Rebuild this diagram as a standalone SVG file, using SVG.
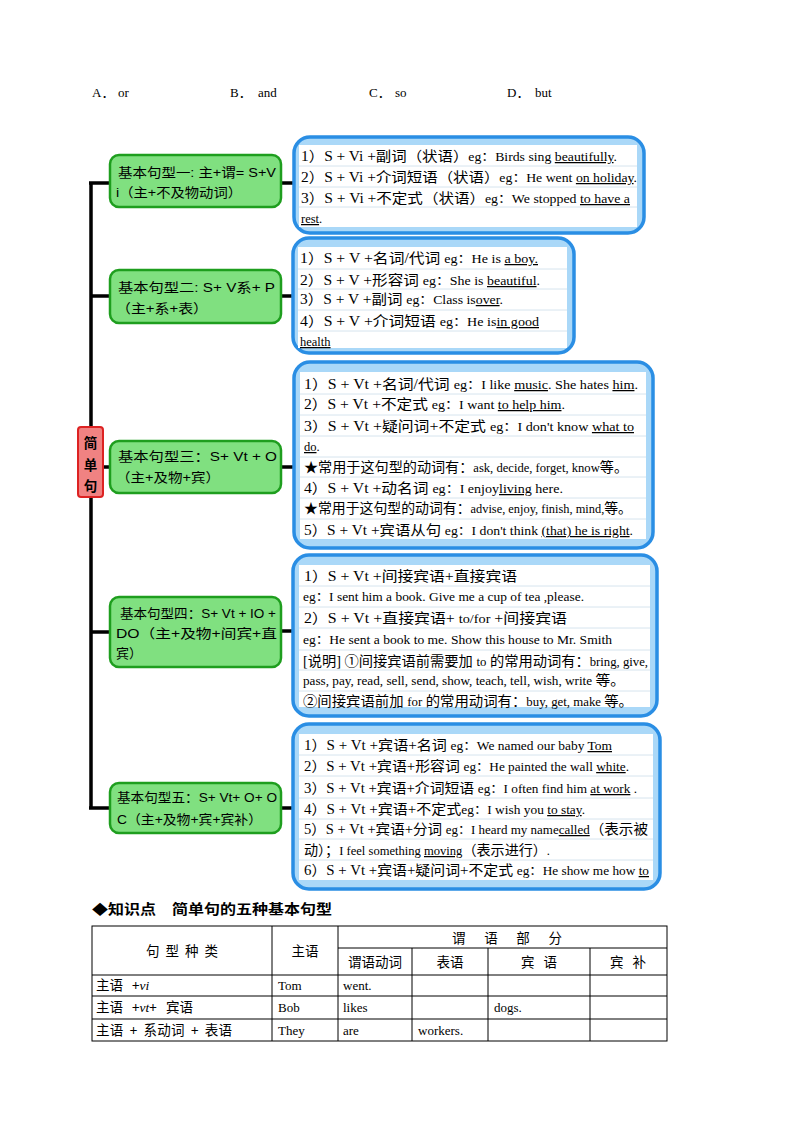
<svg xmlns="http://www.w3.org/2000/svg" width="794" height="1123" viewBox="0 0 794 1123">
<style>
.bg{fill:#fff}
.t{font-family:"Liberation Serif","Noto Sans CJK SC",serif;font-size:14px;fill:#000}
.x{font-size:12.5px}
.u{text-decoration:underline}
.g{font-family:"Liberation Sans","Noto Sans CJK SC",sans-serif;font-size:13px;fill:#000}
.gn{fill:#80e080;stroke:#1e9e1e;stroke-width:2.5}
.rn{fill:#f08282;stroke:#dd2222;stroke-width:2}
.bo{fill:#aad8f8;stroke:#2a8ee4;stroke-width:3.5}
.bw{fill:#fff}
.rl{stroke:#d6e4ee;stroke-width:1}
.k{stroke:#000;stroke-width:3.5;fill:none}
.tb{stroke:#000;stroke-width:1;fill:none}
.c{font-family:"Noto Sans CJK SC",sans-serif;font-size:13.5px;fill:#000}
.s{font-family:"Liberation Serif","Noto Sans CJK SC",serif;font-size:13px;fill:#000}
.it{font-family:"Liberation Serif",serif;font-style:italic}
</style>
<rect class="bg" x="0" y="0" width="794" height="1123"/>

<g id="options">
<text class="s" x="92" y="97">A．</text><text class="s" x="118" y="97">or</text>
<text class="s" x="230" y="97">B．</text><text class="s" x="258" y="97">and</text>
<text class="s" x="369" y="97">C．</text><text class="s" x="395" y="97">so</text>
<text class="s" x="507" y="97">D．</text><text class="s" x="535" y="97">but</text>
</g>

<g id="connectors">
<path class="k" d="M91,183 V427 M91,497 V808"/>
<path class="k" d="M89,183 H110 M91,296 H110 M103,467 H110 M91,632 H110 M89,808 H110"/>
<path class="k" d="M281,183 H294 M281,296 H293 M281,467 H294 M281,631 H293 M281,808 H293"/>
</g>

<g id="root">
<rect class="rn" x="78" y="427" width="25" height="70" rx="3"/>
<text class="c" x="90.5" y="448" text-anchor="middle" font-weight="bold" font-size="14">简</text>
<text class="c" x="90.5" y="470" text-anchor="middle" font-weight="bold" font-size="14">单</text>
<text class="c" x="90.5" y="491" text-anchor="middle" font-weight="bold" font-size="14">句</text>
</g>

<g id="type1">
<rect class="gn" x="110" y="155" width="171" height="52" rx="9"/>
<text class="g" x="118" y="177" textLength="158" lengthAdjust="spacingAndGlyphs">基本句型一: 主+谓= S+V</text>
<text class="g" x="116" y="197" textLength="126" lengthAdjust="spacingAndGlyphs">i（主+不及物动词）</text>
</g>
<g id="type2">
<rect class="gn" x="110" y="270" width="171" height="53" rx="9"/>
<text class="g" x="118" y="292" textLength="157" lengthAdjust="spacingAndGlyphs">基本句型二: S+ V系+ P</text>
<text class="g" x="116" y="313" textLength="92" lengthAdjust="spacingAndGlyphs">（主+系+表）</text>
</g>
<g id="type3">
<rect class="gn" x="110" y="441" width="171" height="52" rx="9"/>
<text class="g" x="118" y="461" textLength="159" lengthAdjust="spacingAndGlyphs">基本句型三：S+ Vt + O</text>
<text class="g" x="116" y="482" textLength="104" lengthAdjust="spacingAndGlyphs">（主+及物+宾）</text>
</g>
<g id="type4">
<rect class="gn" x="110" y="597" width="171" height="70" rx="9"/>
<text class="g" x="120" y="618" textLength="156" lengthAdjust="spacingAndGlyphs">基本句型四：S+ Vt + IO +</text>
<text class="g" x="116" y="638" textLength="161" lengthAdjust="spacingAndGlyphs">DO（主+及物+间宾+直</text>
<text class="g" x="116" y="658">宾）</text>
</g>
<g id="type5">
<rect class="gn" x="110" y="783" width="171" height="50" rx="9"/>
<text class="g" x="117" y="802" textLength="160" lengthAdjust="spacingAndGlyphs">基本句型五：S+ Vt+ O+ O</text>
<text class="g" x="117" y="824" textLength="145" lengthAdjust="spacingAndGlyphs">C（主+及物+宾+宾补）</text>
</g>

<g id="detail1">
<rect class="bo" x="294" y="137" width="350" height="96" rx="16"/>
<rect class="bw" x="299" y="145" width="338" height="82"/>
<path class="rl" d="M299,166 H637 M299,187 H637 M299,207 H637"/>
<text class="t" x="301" y="161" textLength="316" lengthAdjust="spacingAndGlyphs">1）S + Vi +副词（状语）<tspan class="x">eg：Birds sing <tspan class="u">beautifully</tspan>.</tspan></text>
<text class="t" x="301" y="182" textLength="336" lengthAdjust="spacingAndGlyphs">2）S + Vi +介词短语（状语）<tspan class="x">eg：He went <tspan class="u">on holiday</tspan>.</tspan></text>
<text class="t" x="301" y="203" textLength="329" lengthAdjust="spacingAndGlyphs">3）S + Vi +不定式（状语）<tspan class="x">eg：We stopped <tspan class="u">to have a</tspan></tspan></text>
<text class="t x" x="301" y="223"><tspan class="u">rest</tspan>.</text>
</g>

<g id="detail2">
<rect class="bo" x="293" y="238" width="281" height="115" rx="16"/>
<rect class="bw" x="298" y="247" width="269" height="101"/>
<path class="rl" d="M298,269 H567 M298,289 H567 M298,310 H567 M298,331 H567"/>
<text class="t" x="300" y="263" textLength="238" lengthAdjust="spacingAndGlyphs">1）S + V +名词/代词 <tspan class="x">eg：He is <tspan class="u">a boy.</tspan></tspan></text>
<text class="t" x="300" y="285" textLength="240" lengthAdjust="spacingAndGlyphs">2）S + V +形容词 <tspan class="x">eg：She is <tspan class="u">beautiful</tspan>.</tspan></text>
<text class="t" x="300" y="304" textLength="203" lengthAdjust="spacingAndGlyphs">3）S + V +副词 <tspan class="x">eg：Class is<tspan class="u">over</tspan>.</tspan></text>
<text class="t" x="300" y="326" textLength="239" lengthAdjust="spacingAndGlyphs">4）S + V +介词短语 <tspan class="x">eg：He is<tspan class="u">in good</tspan></tspan></text>
<text class="t x" x="300" y="346"><tspan class="u">health</tspan></text>
</g>

<g id="detail3">
<rect class="bo" x="294" y="362" width="359" height="186" rx="16"/>
<rect class="bw" x="300" y="372" width="346" height="167"/>
<path class="rl" d="M300,394 H646 M300,415 H646 M300,436 H646 M300,457 H646 M300,477 H646 M300,498 H646 M300,519 H646"/>
<text class="t" x="304" y="389" textLength="334" lengthAdjust="spacingAndGlyphs">1）S + Vt +名词/代词 <tspan class="x"> eg：I like <tspan class="u">music</tspan>.  She hates <tspan class="u">him</tspan>.</tspan></text>
<text class="t" x="304" y="409" textLength="261" lengthAdjust="spacingAndGlyphs">2）S + Vt +不定式 <tspan class="x"> eg：I want <tspan class="u">to help him</tspan>.</tspan></text>
<text class="t" x="304" y="431" textLength="330" lengthAdjust="spacingAndGlyphs">3）S + Vt +疑问词+不定式 <tspan class="x"> eg：I don't know <tspan class="u">what to</tspan></tspan></text>
<text class="t x" x="304" y="451"><tspan class="u">do</tspan>.</text>
<text class="t" x="304" y="472" textLength="324" lengthAdjust="spacingAndGlyphs">★常用于这句型的动词有：<tspan class="x">ask, decide, forget,  know</tspan>等。</text>
<text class="t" x="304" y="493" textLength="259" lengthAdjust="spacingAndGlyphs">4）S + Vt +动名词 <tspan class="x"> eg：I enjoy<tspan class="u">living</tspan> here.</tspan></text>
<text class="t" x="304" y="513" textLength="328" lengthAdjust="spacingAndGlyphs">★常用于这句型的动词有：<tspan class="x">advise, enjoy, finish, mind,</tspan>等。</text>
<text class="t" x="304" y="535" textLength="329" lengthAdjust="spacingAndGlyphs">5）S + Vt +宾语从句 <tspan class="x">eg：I don't think <tspan class="u">(that) he is right</tspan>.</tspan></text>
</g>

<g id="detail4">
<rect class="bo" x="293" y="555" width="364" height="161" rx="16"/>
<rect class="bw" x="299" y="565" width="351" height="142"/>
<path class="rl" d="M299,586 H650 M299,607 H650 M299,628 H650 M299,650 H650 M299,670 H650 M299,691 H650"/>
<text class="t" x="304" y="581" textLength="213" lengthAdjust="spacingAndGlyphs">1）S + Vt +间接宾语+直接宾语</text>
<text class="t x" x="303" y="601" textLength="281" lengthAdjust="spacingAndGlyphs">eg：I sent him a book.  Give me a cup of tea ,please.</text>
<text class="t" x="304" y="623" textLength="263" lengthAdjust="spacingAndGlyphs">2）S + Vt +直接宾语+ <tspan class="x">to/for</tspan> +间接宾语</text>
<text class="t x" x="303" y="644" textLength="309" lengthAdjust="spacingAndGlyphs">eg：He sent a book to me.  Show this house to Mr. Smith</text>
<text class="t" x="303" y="666" textLength="345" lengthAdjust="spacingAndGlyphs">[说明] ①间接宾语前需要加 <tspan class="x">to</tspan>  的常用动词有：<tspan class="x">bring, give,</tspan></text>
<text class="t" x="303" y="685" textLength="322" lengthAdjust="spacingAndGlyphs"><tspan class="x">pass, pay, read, sell, send, show, teach, tell, wish, write </tspan>等。</text>
<text class="t" x="303" y="706" textLength="330" lengthAdjust="spacingAndGlyphs">②间接宾语前加 <tspan class="x">for</tspan>  的常用动词有：<tspan class="x">buy, get, make </tspan> 等。</text>
</g>

<g id="detail5">
<rect class="bo" x="293" y="724" width="367" height="165" rx="16"/>
<rect class="bw" x="299" y="734" width="354" height="146"/>
<path class="rl" d="M299,755 H653 M299,776 H653 M299,798 H653 M299,819 H653 M299,839 H653 M299,860 H653"/>
<text class="t" x="304" y="750" textLength="308" lengthAdjust="spacingAndGlyphs">1）S + Vt +宾语+名词 <tspan class="x">eg：We named our baby <tspan class="u">Tom</tspan></tspan></text>
<text class="t" x="304" y="771" textLength="325" lengthAdjust="spacingAndGlyphs">2）S + Vt +宾语+形容词 <tspan class="x"> eg：He painted the wall <tspan class="u">white</tspan>.</tspan></text>
<text class="t" x="304" y="793" textLength="333" lengthAdjust="spacingAndGlyphs">3）S + Vt +宾语+介词短语 <tspan class="x">eg：I often find him <tspan class="u">at work</tspan> .</tspan></text>
<text class="t" x="304" y="814" textLength="281" lengthAdjust="spacingAndGlyphs">4）S + Vt +宾语+不定式<tspan class="x">eg：I wish you <tspan class="u">to stay</tspan>.</tspan></text>
<text class="t" x="304" y="834" textLength="344" lengthAdjust="spacingAndGlyphs">5）S + Vt +宾语+分词 <tspan class="x">eg：I heard my name<tspan class="u">called</tspan></tspan>（表示被</text>
<text class="t" x="304" y="855" textLength="246" lengthAdjust="spacingAndGlyphs">动）；<tspan class="x">I feel something <tspan class="u">moving</tspan></tspan>（表示进行）<tspan class="x">.</tspan></text>
<text class="t" x="304" y="875" textLength="345" lengthAdjust="spacingAndGlyphs">6）S + Vt +宾语+疑问词+不定式 <tspan class="x">eg：He show me how <tspan class="u">to</tspan></tspan></text>
</g>

<g id="heading">
<text class="c" x="92" y="914" font-size="15.5" font-weight="bold" textLength="240" lengthAdjust="spacingAndGlyphs">◆知识点　简单句的五种基本句型</text>
</g>

<g id="table">
<rect class="tb" x="92" y="926" width="575" height="115"/>
<path class="tb" d="M338,948 H667 M92,975 H667 M92,996 H667 M92,1019 H667 M272,926 V1041 M338,926 V1041 M412,948 V1041 M488,948 V1041 M590,948 V1041"/>
<text class="c" x="182" y="956" text-anchor="middle" textLength="72" lengthAdjust="spacing">句型种类</text>
<text class="c" x="305" y="956" text-anchor="middle">主语</text>
<text class="c" x="507" y="943" text-anchor="middle" textLength="110" lengthAdjust="spacing">谓语部分</text>
<text class="c" x="375" y="967" text-anchor="middle">谓语动词</text>
<text class="c" x="450" y="967" text-anchor="middle">表语</text>
<text class="c" x="539" y="967" text-anchor="middle" textLength="36" lengthAdjust="spacing">宾语</text>
<text class="c" x="628" y="967" text-anchor="middle" textLength="36" lengthAdjust="spacing">宾补</text>
<text class="c" x="96" y="990" xml:space="preserve">主语   +<tspan class="it">vi</tspan></text>
<text class="s" x="278" y="990">Tom</text>
<text class="s" x="343" y="990">went.</text>
<text class="c" x="96" y="1012" xml:space="preserve">主语   +<tspan class="it">vt</tspan>+   宾语</text>
<text class="s" x="278" y="1012">Bob</text>
<text class="s" x="343" y="1012">likes</text>
<text class="s" x="494" y="1012">dogs.</text>
<text class="c" x="96" y="1035" xml:space="preserve" textLength="136" lengthAdjust="spacing">主语  +  系动词  +  表语</text>
<text class="s" x="278" y="1035">They</text>
<text class="s" x="343" y="1035">are</text>
<text class="s" x="418" y="1035">workers.</text>
</g>
</svg>
